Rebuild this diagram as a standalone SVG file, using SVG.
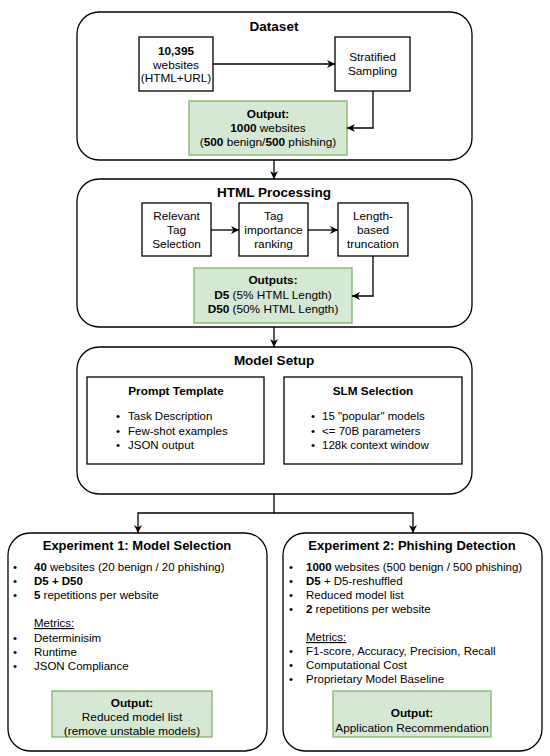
<svg xmlns="http://www.w3.org/2000/svg" width="550" height="756" viewBox="0 0 550 756">
<defs>
<style>
text{font-family:"Liberation Sans",Arial,sans-serif;fill:#000}
.cont{fill:#fff;stroke:#000;stroke-width:1.3}
.box{fill:#fff;stroke:#000;stroke-width:1.3}
.out{fill:#d5e8d4;stroke:#82b366;stroke-width:1.3}
.t{font-size:13.5px;font-weight:bold;text-anchor:middle}
.et{font-size:13px;font-weight:bold;text-anchor:middle}
.bt{font-size:11.8px;text-anchor:middle}
.bl{font-size:11.5px}
.b{font-weight:bold}
.conn{fill:none;stroke:#000;stroke-width:1.3}
</style>
<marker id="arr" viewBox="0 0 10 10" refX="10" refY="5" markerWidth="8" markerHeight="8" markerUnits="userSpaceOnUse" orient="auto">
<path d="M0,0 L10,5 L0,10 L3,5 z" fill="#000"/>
</marker>
</defs>
<rect width="550" height="756" fill="#fff"/>

<g id="dataset">
<rect class="cont" x="77" y="12" width="395" height="148" rx="22"/>
<text class="t" x="274" y="31">Dataset</text>
</g>
<g id="websites">
<rect class="box" x="139" y="37" width="74" height="54"/>
<text class="bt" x="176" y="55"><tspan class="b">10,395</tspan></text>
<text class="bt" x="176" y="68.5">websites</text>
<text class="bt" x="176" y="82">(HTML+URL)</text>
</g>
<g id="sampling">
<rect class="box" x="335" y="37" width="75" height="54"/>
<text class="bt" x="372.5" y="61">Stratified</text>
<text class="bt" x="372.5" y="75">Sampling</text>
</g>
<g id="out1">
<rect class="out" x="189" y="101" width="158" height="54"/>
<text class="bt" x="268" y="118"><tspan class="b">Output:</tspan></text>
<text class="bt" x="268" y="132"><tspan class="b">1000</tspan> websites</text>
<text class="bt" x="268" y="146">(<tspan class="b">500</tspan> benign/<tspan class="b">500</tspan> phishing)</text>
</g>

<g id="htmlproc">
<rect class="cont" x="77" y="179" width="395" height="148" rx="22"/>
<text class="t" x="274" y="197">HTML Processing</text>
</g>
<g id="tagsel">
<rect class="box" x="142" y="203" width="69" height="53"/>
<text class="bt" x="176.5" y="220">Relevant</text>
<text class="bt" x="176.5" y="234">Tag</text>
<text class="bt" x="176.5" y="248">Selection</text>
</g>
<g id="tagrank">
<rect class="box" x="239" y="203" width="69" height="53"/>
<text class="bt" x="273.5" y="220">Tag</text>
<text class="bt" x="273.5" y="234">importance</text>
<text class="bt" x="273.5" y="248">ranking</text>
</g>
<g id="trunc">
<rect class="box" x="338" y="203" width="70" height="53"/>
<text class="bt" x="373" y="220">Length-</text>
<text class="bt" x="373" y="234">based</text>
<text class="bt" x="373" y="248">truncation</text>
</g>
<g id="out2">
<rect class="out" x="194" y="268" width="158" height="55"/>
<text class="bt" x="273" y="284"><tspan class="b">Outputs:</tspan></text>
<text class="bt" x="273" y="298.5"><tspan class="b">D5</tspan> (5% HTML Length)</text>
<text class="bt" x="273" y="313"><tspan class="b">D50</tspan> (50% HTML Length)</text>
</g>

<g id="modelsetup">
<rect class="cont" x="77" y="347" width="395" height="147" rx="22"/>
<text class="t" x="274" y="365">Model Setup</text>
</g>
<g id="prompt">
<rect class="box" x="87" y="377" width="177" height="87"/>
<text class="bt b" x="176" y="395">Prompt Template</text>
<text class="bl" x="116" y="420">•</text><text class="bl" x="128" y="420">Task Description</text>
<text class="bl" x="116" y="434.5">•</text><text class="bl" x="128" y="434.5">Few-shot examples</text>
<text class="bl" x="116" y="448.5">•</text><text class="bl" x="128" y="448.5">JSON output</text>
</g>
<g id="slm">
<rect class="box" x="284" y="377" width="178" height="87"/>
<text class="bt b" x="373" y="395">SLM Selection</text>
<text class="bl" x="311" y="420">•</text><text class="bl" x="322" y="420">15 "popular" models</text>
<text class="bl" x="311" y="434.5">•</text><text class="bl" x="322" y="434.5">&lt;= 70B parameters</text>
<text class="bl" x="311" y="448.5">•</text><text class="bl" x="322" y="448.5">128k context window</text>
</g>

<g id="exp1">
<rect class="cont" x="8" y="533" width="259" height="218" rx="22"/>
<text class="et" x="137" y="550">Experiment 1: Model Selection</text>
<text class="bl" x="13" y="571">•</text><text class="bl" x="34" y="571"><tspan class="b">40</tspan> websites (20 benign / 20 phishing)</text>
<text class="bl" x="13" y="585">•</text><text class="bl b" x="34" y="585">D5 + D50</text>
<text class="bl" x="13" y="599">•</text><text class="bl" x="34" y="599"><tspan class="b">5</tspan> repetitions per website</text>
<text class="bl" x="34" y="627" text-decoration="underline">Metrics:</text>
<text class="bl" x="13" y="641.5">•</text><text class="bl" x="34" y="641.5">Determinisim</text>
<text class="bl" x="13" y="655.5">•</text><text class="bl" x="34" y="655.5">Runtime</text>
<text class="bl" x="13" y="669.5">•</text><text class="bl" x="34" y="669.5">JSON Compliance</text>
</g>
<g id="out3">
<rect class="out" x="52" y="691" width="160" height="46"/>
<text class="bt b" x="132" y="707">Output:</text>
<text class="bt" x="132" y="721">Reduced model list</text>
<text class="bt" x="132" y="735">(remove unstable models)</text>
</g>

<g id="exp2">
<rect class="cont" x="283" y="533" width="259" height="218" rx="22"/>
<text class="et" x="412" y="550">Experiment 2: Phishing Detection</text>
<text class="bl" x="289" y="571">•</text><text class="bl" x="306" y="571"><tspan class="b">1000</tspan> websites (500 benign / 500 phishing)</text>
<text class="bl" x="289" y="585">•</text><text class="bl" x="306" y="585"><tspan class="b">D5</tspan> + D5-reshuffled</text>
<text class="bl" x="289" y="598.5">•</text><text class="bl" x="306" y="598.5">Reduced model list</text>
<text class="bl" x="289" y="612.5">•</text><text class="bl" x="306" y="612.5"><tspan class="b">2</tspan> repetitions per website</text>
<text class="bl" x="306" y="641" text-decoration="underline">Metrics:</text>
<text class="bl" x="289" y="655">•</text><text class="bl" x="306" y="655">F1-score, Accuracy, Precision, Recall</text>
<text class="bl" x="289" y="669">•</text><text class="bl" x="306" y="669">Computational Cost</text>
<text class="bl" x="289" y="683">•</text><text class="bl" x="306" y="683">Proprietary Model Baseline</text>
</g>
<g id="out4">
<rect class="out" x="333" y="691" width="158" height="46"/>
<text class="bt b" x="412" y="717">Output:</text>
<text class="bt" x="412" y="732">Application Recommendation</text>
</g>

<g id="connectors">
<path class="conn" d="M213,64 L335,64" marker-end="url(#arr)"/>
<path class="conn" d="M373,91 L373,128 L347,128" marker-end="url(#arr)"/>
<path class="conn" d="M274,160 L274,179" marker-end="url(#arr)"/>
<path class="conn" d="M211,230 L239,230" marker-end="url(#arr)"/>
<path class="conn" d="M308,230 L338,230" marker-end="url(#arr)"/>
<path class="conn" d="M373,256 L373,296 L352,296" marker-end="url(#arr)"/>
<path class="conn" d="M274,327 L274,347" marker-end="url(#arr)"/>
<path class="conn" d="M274,494 L274,513 L138,513 L138,533" marker-end="url(#arr)"/>
<path class="conn" d="M274,513 L413,513 L413,533" marker-end="url(#arr)"/>
</g>
</svg>
